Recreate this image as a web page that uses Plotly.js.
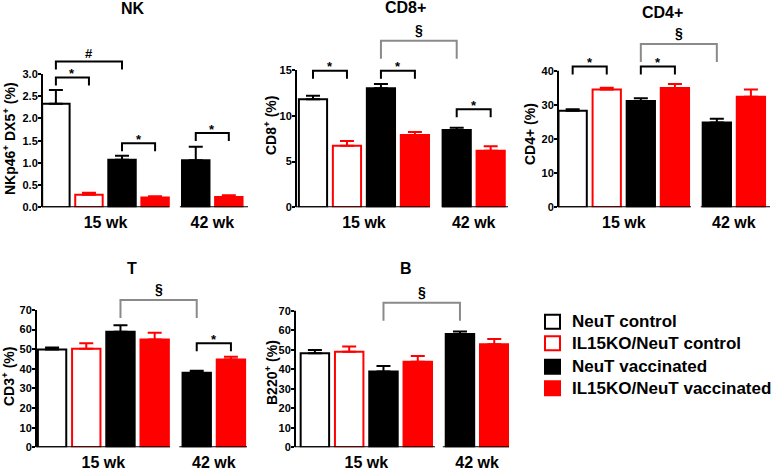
<!DOCTYPE html>
<html><head><meta charset="utf-8">
<script src="https://cdn.plot.ly/plotly-3.0.1.min.js"></script>
<style>html,body{margin:0;padding:0;background:#fff}#chart{width:778px;height:471px}</style>
</head><body><div id="chart"></div>
<script>
// ---------- data ----------
const panelTitles = ["NK", "CD8+", "CD4+", "T", "B"];
const yTitles = ["NKp46<sup>+</sup> DX5<sup>+</sup> (%)", "CD8<sup>+</sup> (%)", "CD4+ (%)", "CD3<sup>+</sup> (%)", "B220<sup>+</sup> (%)"];
const timepoints = ["15 wk", "42 wk"];
const seriesNames = ["NeuT control", "IL15KO/NeuT control", "NeuT vaccinated", "IL15KO/NeuT vaccinated"];
// bar order: ctrl 15wk, KO ctrl 15wk, vacc 15wk, KO vacc 15wk, vacc 42wk, KO vacc 42wk
const barSeries = [0, 1, 2, 3, 2, 3];
const barTime = [0, 0, 0, 0, 1, 1];

const nkMean = [2.33, 0.28, 1.07, 0.22, 1.06, 0.23];
const nkSem  = [0.31, 0.05, 0.09, 0.03, 0.30, 0.04];
const cd8Mean = [11.8, 6.73, 13.0, 7.9, 8.44, 6.18];
const cd8Sem  = [0.4, 0.5, 0.47, 0.32, 0.25, 0.5];
const cd4Mean = [28.3, 34.5, 31.1, 34.9, 24.8, 32.4];
const cd4Sem  = [0.4, 0.5, 0.8, 1.2, 1.1, 2.1];
const tMean = [49.9, 50.3, 58.9, 55.0, 38.0, 44.8];
const tSem  = [1.0, 2.7, 3.3, 3.4, 1.0, 1.4];
const bMean = [48.2, 49.0, 38.8, 43.9, 58.1, 52.8];
const bSem  = [1.7, 2.6, 2.9, 2.9, 1.2, 2.7];

// significance brackets: [bar A, bar B, bracket level, symbol]
const nkSig  = [[0, 2, 3.28, "#"], [0, 1, 2.92, "*"], [2, 3, 1.44, "*"], [4, 5, 1.67, "*"]];
const cd8Sig = [[0, 1, 14.92, "*"], [2, 3, 14.92, "*"], [2, 4, 18.2, "§"], [4, 5, 10.7, "*"]];
const cd4Sig = [[0, 1, 41.2, "*"], [2, 3, 41.2, "*"], [2, 4, 47.8, "§"]];
const tSig   = [[2, 4, 75.1, "§"], [4, 5, 53.0, "*"]];
const bSig   = [[2, 4, 74.1, "§"]];

const yTickMax = [3, 15, 40, 70, 70];
const yDtick = [0.5, 5, 10, 10, 10];

// ---------- layout / styles ----------
const W = 778, H = 471;
const FONT = "Liberation Sans, Arial, Helvetica, sans-serif";
const RED = "#ff0000", BLK = "#000000", GRAY = "#8a8a8a";
const seriesFill = ["#ffffff", "#ffffff", BLK, RED];
const seriesLine = [BLK, RED, BLK, RED];
const timeOffset = [0, 4.23];
const slotInGroup = [0, 1, 2, 3, 0, 1];
const barPos = slotInGroup.map((s, i) => s + timeOffset[barTime[i]]);
const tickPos = [1.5, timeOffset[1] + 0.5];

// panel geometry in px
const geo = [
  {x0: 42,  x1: 248, ybot: 207.3, tickPx: 74,    top: 3.55, xr: [-0.42, 5.81], seg1: 3.43, seg2: 3.75, fmt: ".1f", tx: 133, ty: 9,   ytx: 9,   yty: 139},
  {x0: 296, x1: 508, ybot: 207.3, tickPx: 70,    top: 20.5, xr: [-0.50, 5.74], seg1: 3.44, seg2: 3.80, fmt: "d",   tx: 405, ty: 8,   ytx: 270, yty: 126},
  {x0: 558, x1: 770, ybot: 207.3, tickPx: 70.7,  top: 52,   xr: [-0.43, 5.79], seg1: 3.47, seg2: 3.76, fmt: "d",   tx: 662, ty: 13,  ytx: 530, yty: 134},
  {x0: 36,  x1: 247, ybot: 447.3, tickPx: 310,   top: 83,   xr: [-0.47, 5.70], seg1: 3.45, seg2: 3.72, fmt: "d",   tx: 132, ty: 268, ytx: 8,   yty: 377},
  {x0: 295, x1: 509, ybot: 447.3, tickPx: 310.7, top: 82,   xr: [-0.58, 5.66], seg1: 3.50, seg2: 3.73, fmt: "d",   tx: 406, ty: 268, ytx: 271, yty: 373}
];

const means = [nkMean, cd8Mean, cd4Mean, tMean, bMean];
const sems = [nkSem, cd8Sem, cd4Sem, tSem, bSem];
const sigs = [nkSig, cd8Sig, cd4Sig, tSig, bSig];

const traces = [];
const shapes = [];
const annotations = [];
const layout = {
  width: W, height: H,
  margin: {l: 0, r: 0, t: 0, b: 0},
  paper_bgcolor: "#fff", plot_bgcolor: "rgba(0,0,0,0)",
  showlegend: false, barmode: "overlay",
  font: {family: FONT, color: BLK, weight: "bold"}
};

geo.forEach((g, p) => {
  const ax = p === 0 ? "" : String(p + 1);
  const xa = "x" + ax, ya = "y" + ax;
  const scale = (g.ybot - g.tickPx) / yTickMax[p];     // px per unit
  const topPx = g.ybot - g.top * scale;
  layout["xaxis" + ax] = {
    domain: [g.x0 / W, g.x1 / W], anchor: ya, range: g.xr,
    showgrid: false, zeroline: false, showline: false, ticks: "",
    tickmode: "array", tickvals: tickPos, ticktext: timepoints,
    tickfont: {family: FONT, size: 16, color: BLK, weight: "bold"},
    ticklabelstandoff: 4, fixedrange: true
  };
  const tv = [];
  for (let v = 0; v <= yTickMax[p] + 1e-9; v += yDtick[p]) tv.push(+v.toFixed(3));
  layout["yaxis" + ax] = {
    domain: [1 - g.ybot / H, 1 - topPx / H], anchor: xa, range: [0, g.top],
    showgrid: false, zeroline: false, showline: false,
    ticks: "outside", ticklen: 3, tickwidth: 2, tickcolor: BLK,
    tickmode: "array", tickvals: tv, tickformat: g.fmt,
    tickfont: {family: FONT, size: 11, color: BLK, weight: "bold"},
    ticklabelstandoff: -2, fixedrange: true
  };

  // bars: one trace per series
  seriesNames.forEach((name, s) => {
    const idx = barSeries.map((bs, i) => bs === s ? i : -1).filter(i => i >= 0);
    traces.push({
      type: "bar", name: name, xaxis: xa, yaxis: ya,
      x: idx.map(i => barPos[i]), y: idx.map(i => means[p][i]),
      width: 0.83, cliponaxis: false,
      marker: {color: seriesFill[s], line: {color: seriesLine[s], width: 2}},
      error_y: {type: "data", symmetric: false, array: idx.map(i => sems[p][i]),
                arrayminus: idx.map(() => 0), color: seriesLine[s], thickness: 2, width: 7},
      hoverinfo: "skip"
    });
  });

  // axis lines (broken x axis)
  shapes.push({type: "line", xref: xa + " domain", yref: ya, x0: 0, x1: 0, y0: 0, y1: yTickMax[p],
               line: {color: BLK, width: 2}});
  shapes.push({type: "line", xref: xa, yref: ya, x0: g.xr[0], x1: g.seg1, y0: 0, y1: 0,
               line: {color: BLK, width: 2}});
  shapes.push({type: "line", xref: xa, yref: ya, x0: g.seg2, x1: g.xr[1], y0: 0, y1: 0,
               line: {color: BLK, width: 2}});

  // significance brackets
  sigs[p].forEach(([a, b, lvl, sym]) => {
    const legPx = sym === "§" ? 18 : 8;
    const leg = legPx / scale;
    const col = sym === "§" ? GRAY : BLK;
    const xa1 = barPos[a], xb1 = barPos[b];
    shapes.push({type: "path", xref: xa, yref: ya,
      path: `M${xa1},${lvl - leg} L${xa1},${lvl} L${xb1},${lvl} L${xb1},${lvl - leg}`,
      line: {color: col, width: 2}});
    annotations.push({xref: xa, yref: ya, x: (xa1 + xb1) / 2, y: lvl, text: sym, showarrow: false,
      xanchor: "center", yanchor: "middle", yshift: sym === "*" ? 4 : (sym === "#" ? 8 : 11),
      font: {family: FONT, size: sym === "§" ? 14 : 13, color: BLK, weight: "bold"}});
  });

  // panel title
  annotations.push({xref: "paper", yref: "paper", x: g.tx / W, y: 1 - g.ty / H, text: panelTitles[p],
    showarrow: false, xanchor: "center", yanchor: "middle",
    font: {family: FONT, size: 16, color: BLK, weight: "bold"}});
  // y-axis title
  annotations.push({xref: "paper", yref: "paper", x: g.ytx / W, y: 1 - g.yty / H, text: yTitles[p],
    showarrow: false, xanchor: "center", yanchor: "middle", textangle: -90,
    font: {family: FONT, size: 14, color: BLK, weight: "bold"}});
});

// legend (drawn as boxes + text)
const legRows = [321.7, 343.3, 366.7, 388.3];
seriesNames.forEach((name, s) => {
  const cy = legRows[s];
  shapes.push({type: "rect", xref: "paper", yref: "paper",
    x0: 545 / W, x1: 560 / W, y0: 1 - (cy + 7) / H, y1: 1 - (cy - 7) / H,
    fillcolor: seriesFill[s], line: {color: seriesLine[s], width: 2}});
  annotations.push({xref: "paper", yref: "paper", x: 570 / W, y: 1 - cy / H, text: name,
    showarrow: false, xanchor: "left", yanchor: "middle",
    font: {family: FONT, size: 17, color: BLK, weight: "bold"}});
});

layout.shapes = shapes;
layout.annotations = annotations;
Plotly.newPlot("chart", traces, layout, {staticPlot: true, displayModeBar: false});
</script>
</body></html>
